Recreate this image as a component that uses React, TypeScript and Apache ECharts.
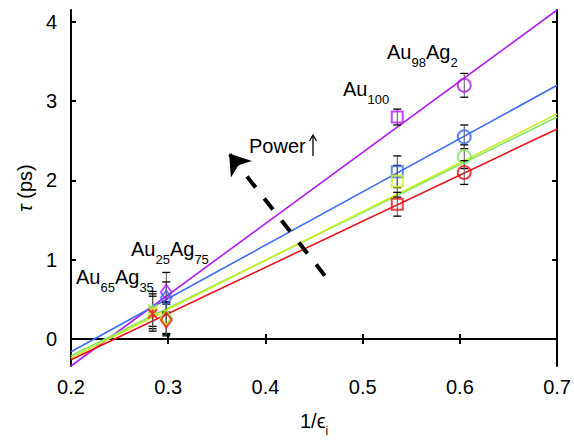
import React, { useEffect, useRef } from "react";
import * as echarts from "echarts";

// composition positions (1/eps_i) and their marker shapes
const compX = [0.284, 0.298, 0.5356, 0.6045];
const compSymbols = [
  "path://M0,0L10,10M10,0L0,10M5,0L5,10",
  "diamond",
  "rect",
  "circle",
];
const compSizes: any[] = [9, [11, 15], 11, 13];

const seriesNames = ["purple", "blue", "green", "yellow", "red"];
const seriesColors = ["#b21cf2", "#3b6cf6", "#86e66c", "#c9ef1c", "#e8141c"];

// tau values (ps) per composition, per series
const purpleTau = [null, 0.59, 2.8, 3.2];
const blueTau = [null, 0.52, 2.11, 2.55];
const greenTau = [0.38, 0.27, null, 2.3];
const yellowTau = [0.35, 0.26, 1.99, null];
const redTau = [0.32, 0.24, 1.7, 2.1];

const purpleErr = [null, 0.25, 0.1, 0.15];
const blueErr = [null, 0.2, 0.2, 0.15];
const greenErr = [0.22, 0.2, null, 0.15];
const yellowErr = [0.22, 0.2, 0.2, null];
const redErr = [0.22, 0.2, 0.15, 0.15];

// linear fits: value at 1/eps = 0.2 and at 0.7
const fitX = [0.2, 0.7];
const fitStart = [-0.34, -0.16, -0.21, -0.24, -0.26];
const fitEnd = [4.15, 3.2, 2.8, 2.84, 2.65];

const xTicks = [0.2, 0.3, 0.4, 0.5, 0.6, 0.7];
const yTicks = [0, 1, 2, 3, 4];

// power arrow (start, tip) in data coordinates
const arrowFrom = [0.461, 0.8];
const arrowTo = [0.3626, 2.34];

const FONT = "'Liberation Sans', Arial, Helvetica, sans-serif";

export default function App() {
  const ref = useRef<HTMLDivElement>(null);
  useEffect(() => {
    if (!ref.current) return;
    const chart = echarts.init(ref.current, null, { renderer: "svg" });
    const taus = [purpleTau, blueTau, greenTau, yellowTau, redTau];
    const errs = [purpleErr, blueErr, greenErr, yellowErr, redErr];

    const errData: any[] = [];
    taus.forEach((arr, si) => {
      arr.forEach((v, ci) => {
        if (v != null && errs[si][ci] != null) errData.push([compX[ci], v, errs[si][ci]]);
      });
    });

    const fitSeries = seriesNames.map((n, i) => ({
      name: n + " fit",
      type: "line",
      data: [
        [fitX[0], fitStart[i]],
        [fitX[1], fitEnd[i]],
      ],
      showSymbol: false,
      symbol: "none",
      clip: true,
      lineStyle: { color: seriesColors[i], width: 1.6 },
      z: 2,
    }));

    const scatterSeries = seriesNames.map((n, i) => ({
      name: n,
      type: "scatter",
      data: taus[i]
        .map((v, ci) =>
          v == null
            ? null
            : {
                value: [compX[ci], v],
                symbol: compSymbols[ci],
                symbolSize: compSizes[ci],
              }
        )
        .filter((d) => d != null),
      itemStyle: {
        color: "rgba(0,0,0,0)",
        borderColor: seriesColors[i],
        borderWidth: 2,
      },
      z: 5,
    }));

    const axisCommon = {
      axisLine: { show: true, lineStyle: { color: "#000", width: 2 } },
      splitLine: { show: false },
    };

    const option: any = {
      animation: false,
      grid: { left: 71, right: 16, top: 10, bottom: 73, containLabel: false },
      xAxis: [
        {
          type: "value",
          min: 0.2,
          max: 0.7,
          position: "bottom",
          ...axisCommon,
          axisTick: {
            show: true,
            inside: true,
            length: 5,
            customValues: xTicks,
            lineStyle: { color: "#000", width: 2 },
          },
          axisLabel: {
            show: true,
            customValues: xTicks,
            color: "#000",
            fontSize: 20,
            fontFamily: FONT,
            margin: 11,
            formatter: (v: number) => v.toFixed(1),
          },
          name: "{n|1/ϵ}{s|i}",
          nameLocation: "middle",
          nameGap: 45,
          nameTextStyle: {
            rich: {
              n: { fontSize: 20, fontFamily: FONT, color: "#000", lineHeight: 20, verticalAlign: "top" },
              s: { fontSize: 12, fontFamily: FONT, color: "#000", lineHeight: 12, verticalAlign: "top", padding: [14, 0, 0, 0] },
            },
          },
        },
        {
          type: "value",
          min: 0.2,
          max: 0.7,
          position: "top",
          ...axisCommon,
          axisTick: {
            show: true,
            inside: true,
            length: 5,
            customValues: xTicks,
            lineStyle: { color: "#000", width: 2 },
          },
          axisLabel: { show: false },
        },
      ],
      yAxis: [
        {
          type: "value",
          min: -0.34,
          max: 4.15,
          position: "left",
          ...axisCommon,
          axisTick: {
            show: true,
            inside: true,
            length: 5,
            customValues: yTicks,
            lineStyle: { color: "#000", width: 2 },
          },
          axisLabel: {
            show: true,
            customValues: yTicks,
            color: "#000",
            fontSize: 20,
            fontFamily: FONT,
            margin: 14,
          },
          name: "{t|τ} (ps)",
          nameLocation: "middle",
          nameGap: 36,
          nameRotate: 90,
          nameTextStyle: {
            fontSize: 20,
            fontFamily: FONT,
            color: "#000",
            rich: {
              t: { fontSize: 20, fontFamily: FONT, fontStyle: "italic", color: "#000" },
            },
          },
        },
        {
          type: "value",
          min: -0.34,
          max: 4.15,
          position: "right",
          ...axisCommon,
          axisTick: {
            show: true,
            inside: true,
            length: 5,
            customValues: yTicks,
            lineStyle: { color: "#000", width: 2 },
          },
          axisLabel: { show: false },
        },
      ],
      series: [
        ...fitSeries,
        {
          name: "power arrow",
          type: "lines",
          coordinateSystem: "cartesian2d",
          polyline: false,
          data: [{ coords: [arrowFrom, arrowTo] }],
          symbol: ["none", "arrow"],
          symbolSize: [16, 20],
          lineStyle: { color: "#000", width: 4, type: [14, 14], opacity: 1 },
          z: 3,
        },
        {
          name: "errors",
          type: "custom",
          data: errData,
          encode: { x: 0, y: 1 },
          z: 4,
          renderItem: (params: any, api: any) => {
            const x = api.value(0);
            const y = api.value(1);
            const e = api.value(2);
            const top = api.coord([x, y + e]);
            const bot = api.coord([x, y - e]);
            const hw = 4;
            return {
              type: "group",
              children: [
                {
                  type: "line",
                  shape: { x1: top[0], y1: top[1], x2: bot[0], y2: bot[1] },
                  style: { stroke: "#555", lineWidth: 1 },
                },
                {
                  type: "line",
                  shape: { x1: top[0] - hw, y1: top[1], x2: top[0] + hw, y2: top[1] },
                  style: { stroke: "#000", lineWidth: 1.3 },
                },
                {
                  type: "line",
                  shape: { x1: bot[0] - hw, y1: bot[1], x2: bot[0] + hw, y2: bot[1] },
                  style: { stroke: "#000", lineWidth: 1.3 },
                },
              ],
            };
          },
        },
        ...scatterSeries,
      ],
      graphic: [
        ...[
          { x: 76, y: 267, parts: [["a", "Au"], ["s", "65"], ["a", "Ag"], ["s", "35"]] },
          { x: 131, y: 239, parts: [["a", "Au"], ["s", "25"], ["a", "Ag"], ["s", "75"]] },
          { x: 343, y: 79, parts: [["a", "Au"], ["s", "100"]] },
          { x: 387, y: 42, parts: [["a", "Au"], ["s", "98"], ["a", "Ag"], ["s", "2"]] },
        ].map((l) => ({
          type: "text",
          x: l.x,
          y: l.y,
          z: 10,
          style: {
            text: l.parts.map((p) => `{${p[0]}|${p[1]}}`).join(""),
            fill: "#000",
            rich: {
              a: { fontSize: 20, fontFamily: FONT, fill: "#000", lineHeight: 20, verticalAlign: "top" },
              s: { fontSize: 13, fontFamily: FONT, fill: "#000", lineHeight: 13, verticalAlign: "top", padding: [14, 0, 0, 0] },
            },
          },
        })),
        {
          type: "text",
          x: 249,
          y: 136,
          z: 10,
          style: { text: "Power", font: `20px ${FONT}`, fill: "#000" },
        },
        {
          type: "line",
          z: 10,
          shape: { x1: 313, y1: 136, x2: 313, y2: 156 },
          style: { stroke: "#000", lineWidth: 1.3 },
        },
        {
          type: "polyline",
          z: 10,
          shape: { points: [[309.5, 141], [313, 135], [316.5, 141]] },
          style: { stroke: "#000", lineWidth: 1.3, fill: "none" },
        },
      ],
    };
    chart.setOption(option);
    return () => chart.dispose();
  }, []);
  return (
    <div
      ref={ref}
      style={{ position: "fixed", left: 0, top: 0, width: 574, height: 442, background: "#fff" }}
    />
  );
}
